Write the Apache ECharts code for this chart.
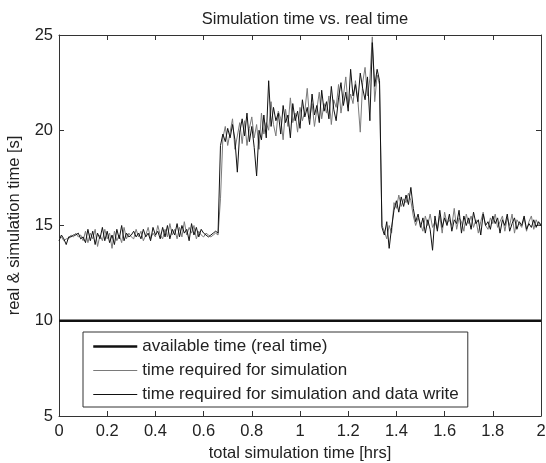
<!DOCTYPE html>
<html>
<head>
<meta charset="utf-8">
<title>Simulation time vs. real time</title>
<script src="https://cdn.jsdelivr.net/npm/echarts@6/dist/echarts.min.js"></script>
<style>
  html, body { margin: 0; padding: 0; background: #fff; }
  #chart { width: 546px; height: 463px; }
</style>
</head>
<body>
<div id="chart"></div>
<script>
// x ticks (hrs) and y ticks (s)
const xTicks = [0, 0.2, 0.4, 0.6, 0.8, 1, 1.2, 1.4, 1.6, 1.8, 2];
const yTicks = [5, 10, 15, 20, 25];

// real time budget per step
const availableTime = 10;

// one sample every 0.01 hrs
const simWriteTime = [
  14.2, 14.5, 14.3, 14.0, 14.4, 14.4, 14.5, 14.5, 14.6, 14.3,
  14.4, 14.1, 14.8, 14.2, 14.7, 14.0, 14.6, 14.3, 14.9, 14.2,
  14.7, 14.1, 14.5, 14.0, 14.8, 14.3, 15.0, 14.2, 14.6, 14.4,
  14.5, 14.7, 14.4, 14.6, 14.3, 14.8, 14.4, 14.6, 14.2, 14.9,
  14.5, 14.7, 14.3, 14.9, 14.4, 15.0, 14.3, 14.8, 14.5, 15.1,
  14.4, 15.0, 14.6, 14.8, 14.2, 15.1, 14.5, 14.9, 14.4, 14.8,
  14.6, 14.5, 14.4, 14.5, 14.6, 14.7, 14.6,
  19.2, 19.8, 19.4, 20.1, 19.6, 20.3, 19.5, 17.8, 19.9, 20.6,
  19.7, 20.9, 19.4, 20.2, 19.1, 17.6, 20.0, 19.5, 20.8, 19.6,
  22.6, 20.2, 21.2, 20.5, 20.9, 19.8, 21.3, 20.4, 20.8, 19.6,
  21.4, 20.5, 21.0, 20.1, 21.6, 20.7, 21.2, 20.3, 21.9, 20.8,
  21.3, 20.4, 22.1, 21.0, 21.5, 20.6, 22.3, 21.1, 20.5, 21.7,
  22.5, 21.3, 22.0, 21.0, 23.2, 21.8, 22.4, 21.5, 23.0, 22.2,
  21.6, 22.8, 20.5, 24.6, 22.3, 23.2, 22.6,
  14.9, 14.5, 15.2, 13.8, 14.9, 15.8, 16.3, 15.7, 16.5, 16.0,
  16.6, 16.1, 17.0, 15.9, 15.2, 15.6, 14.9, 15.4, 14.6, 15.3,
  14.8, 13.7, 15.5, 14.7, 15.8, 14.9, 15.4, 15.0, 15.6, 14.7,
  15.3, 15.1, 15.8, 14.6, 15.5, 15.0, 15.4, 14.8, 15.7, 15.1,
  15.3, 14.5, 15.6, 15.0, 15.2, 14.8, 15.5, 15.1, 15.4, 14.6,
  15.3, 15.0, 15.6, 14.7, 15.1, 15.4, 14.8, 15.2, 15.0, 15.5,
  14.8, 15.1, 14.9, 15.3, 14.9, 15.2, 15.0
];

const simTime = [
  14.3, 14.4, 14.2, 14.3, 14.3, 14.5, 14.4, 14.6, 14.4, 14.5,
  14.2, 14.7, 14.1, 14.6, 14.3, 14.8, 13.9, 14.5, 14.2, 14.8,
  14.3, 14.6, 13.8, 14.7, 14.2, 14.5, 14.1, 14.9, 14.3, 14.6,
  14.4, 14.3, 14.8, 14.4, 14.7, 14.2, 14.5, 14.9, 14.3, 14.6,
  14.4, 15.0, 14.5, 14.3, 14.8, 14.4, 15.1, 14.5, 14.8, 14.3,
  14.9, 14.4, 15.2, 14.5, 14.9, 14.6, 15.0, 14.3, 14.7, 14.5,
  14.4, 14.6, 14.5, 14.4, 14.5, 14.6, 14.5,
  16.4, 19.6, 20.2, 19.2, 19.9, 20.6, 19.0, 19.7, 20.4, 19.3,
  20.5, 19.2, 20.1, 20.7, 19.6, 20.3, 19.0, 20.9, 19.8, 20.4,
  20.0, 21.5, 20.3, 19.7, 21.0, 20.6, 19.5, 21.1, 20.2, 21.7,
  20.4, 20.9, 19.9, 21.2, 20.5, 21.0, 22.2, 20.6, 21.4, 20.2,
  21.1, 22.0, 20.6, 21.4, 20.9, 21.8, 20.3, 21.6, 21.2, 22.4,
  20.9, 21.8, 22.8, 21.2, 21.9, 21.4, 22.6, 21.6, 19.9, 22.5,
  23.3, 21.8, 22.7, 24.9, 21.5, 22.9, 22.4,
  15.0, 14.7, 14.3, 15.0, 14.6, 16.2, 15.9, 16.6, 16.0, 16.4,
  16.2, 16.7, 16.3, 15.5, 15.0, 15.4, 15.1, 14.7, 15.5, 15.0,
  15.6, 14.9, 15.2, 14.8, 15.5, 14.6, 15.7, 15.1, 15.3, 15.0,
  15.9, 14.8, 15.4, 15.2, 14.7, 15.6, 15.1, 15.5, 14.9, 15.3,
  14.6, 15.2, 15.7, 15.0, 14.8, 15.4, 15.1, 15.6, 14.9, 15.2,
  15.5, 14.7, 15.4, 15.0, 15.6, 14.6, 15.3, 15.1, 14.9, 15.4,
  14.7, 15.2, 15.5, 14.8, 15.3, 15.0, 15.1
];

// sample times: 0.00 .. 2.00 hrs
const hours = simWriteTime.map((_, i) => +(i * 0.01).toFixed(2));

const pairs = (ys) => ys.map((y, i) => [hours[i], y]);

const chart = echarts.init(document.getElementById('chart'));

const font = 'Liberation Sans, Arial, sans-serif';
const fontSize = 16.5;
const textColor = '#222';
const axisColor = '#333';

// box style axes (matlab look): ticks inside, all four sides
const baseAxis = {
  axisLine: { show: true, onZero: false, lineStyle: { color: axisColor, width: 1 } },
  axisTick: { show: true, inside: true, length: 5, lineStyle: { color: axisColor } },
  splitLine: { show: false }
};

const option = {
  animation: false,
  backgroundColor: '#fff',
  title: {
    text: 'Simulation time vs. real time',
    left: 300,
    textAlign: 'center',
    top: 6,
    textStyle: { fontFamily: font, fontSize: fontSize, fontWeight: 'normal', color: textColor }
  },
  // fixed plot box, let the "2" tick label run off the edge like the original
  grid: { left: 59, right: 5, top: 35, bottom: 47, outerBoundsMode: 'none' },
  legend: {
    orient: 'vertical',
    left: 83,
    top: 332,
    itemWidth: 44,
    itemHeight: 10,
    itemGap: 7,
    padding: [6, 9, 4, 9],
    borderColor: '#333',
    borderWidth: 1,
    backgroundColor: '#fff',
    itemStyle: { opacity: 0 },
    textStyle: { fontFamily: font, fontSize: 17, color: textColor },
    data: [
      { name: 'available time (real time)', lineStyle: { width: 2.5 } },
      { name: 'time required for simulation', lineStyle: { width: 1 } },
      { name: 'time required for simulation and data write', lineStyle: { width: 1 } }
    ]
  },
  xAxis: [
    Object.assign({}, baseAxis, {
      type: 'value',
      min: 0,
      max: 2,
      interval: 0.2,
      name: 'total simulation time [hrs]',
      nameLocation: 'middle',
      nameGap: 28,
      nameTextStyle: { fontFamily: font, fontSize: fontSize, color: textColor },
      axisLabel: {
        fontFamily: font, fontSize: fontSize, color: textColor, margin: 7,
        showMaxLabel: true,
        formatter: (v) => (xTicks.includes(+v.toFixed(1)) ? String(+v.toFixed(1)) : '')
      }
    }),
    Object.assign({}, baseAxis, {
      type: 'value', position: 'top', min: 0, max: 2, interval: 0.2,
      axisLabel: { show: false }
    })
  ],
  yAxis: [
    Object.assign({}, baseAxis, {
      type: 'value',
      min: yTicks[0],
      max: yTicks[yTicks.length - 1],
      interval: 5,
      name: 'real & simulation time [s]',
      nameLocation: 'middle',
      nameGap: 36,
      nameTextStyle: { fontFamily: font, fontSize: fontSize, color: textColor },
      axisLabel: { fontFamily: font, fontSize: fontSize, color: textColor, margin: 6 }
    }),
    Object.assign({}, baseAxis, {
      type: 'value', position: 'right', min: 5, max: 25, interval: 5,
      axisLabel: { show: false }
    })
  ],
  series: [
    {
      name: 'available time (real time)',
      type: 'line',
      symbol: 'none',
      silent: true,
      lineStyle: { color: '#111', width: 2.5 },
      itemStyle: { color: '#111' },
      data: [[0, availableTime], [2, availableTime]]
    },
    {
      name: 'time required for simulation',
      type: 'line',
      symbol: 'none',
      lineStyle: { color: '#7a7a7a', width: 1 },
      itemStyle: { color: '#7a7a7a' },
      data: pairs(simTime)
    },
    {
      name: 'time required for simulation and data write',
      type: 'line',
      symbol: 'none',
      lineStyle: { color: '#111', width: 1 },
      itemStyle: { color: '#111' },
      data: pairs(simWriteTime)
    }
  ]
};

chart.setOption(option);
</script>
</body>
</html>
